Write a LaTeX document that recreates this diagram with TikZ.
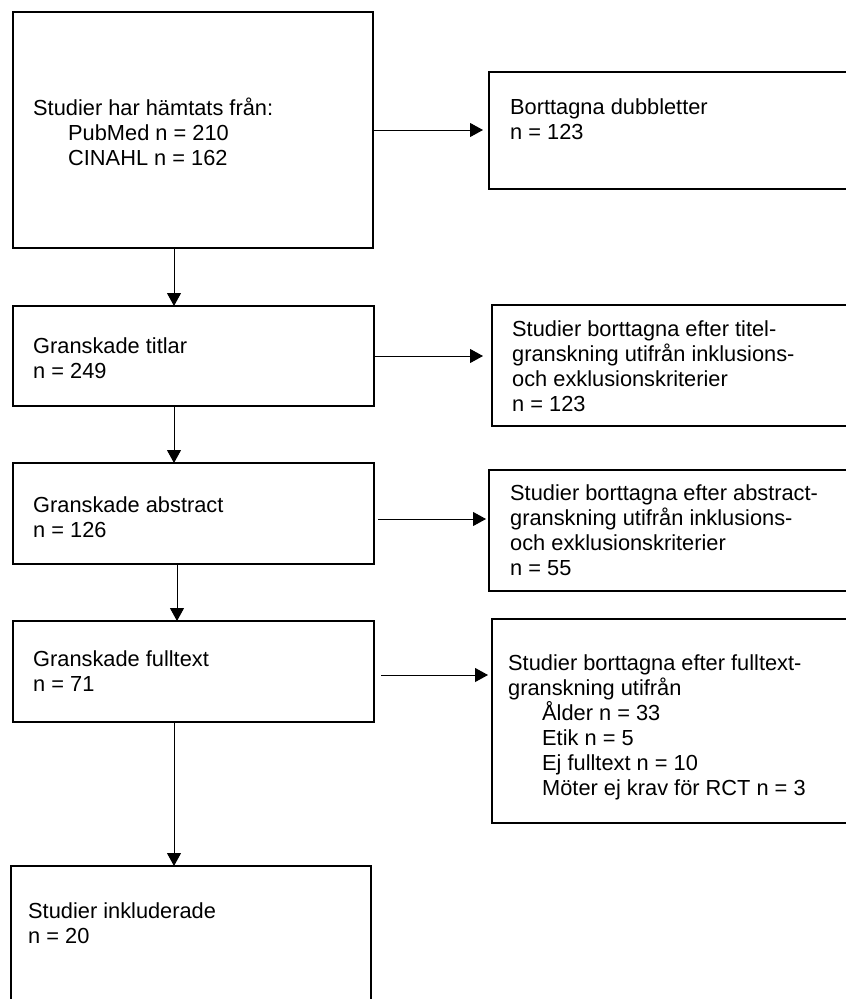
\documentclass[tikz,border=0pt]{standalone}
\usepackage{fontspec}
\setmainfont{Liberation Sans}
\usetikzlibrary{arrows.meta,positioning}
\tikzset{
  >={Triangle[length=13pt,width=14pt]},
  box/.style={draw,line width=2pt,anchor=north west,inner sep=0pt,outer sep=0pt},
  txt/.style={anchor=base west,align=left,inner sep=0pt,font=\fontsize{21.8}{25}\selectfont},
  arr/.style={->,line width=1pt},
}
\begin{document}
\begin{tikzpicture}[x=1pt,y=-1pt]
\useasboundingbox (0,0) rectangle (846,999);
\clip (0,0) rectangle (846,999);
% left column
\node[box,minimum width=360pt,minimum height=236pt] (src) at (13,12) {};
\node[box,minimum width=361pt,minimum height=100pt] (tit) at (13,306) {};
\node[box,minimum width=361pt,minimum height=101pt] (abs) at (13,463) {};
\node[box,minimum width=361pt,minimum height=101pt] (ful) at (13,621) {};
\node[box,minimum width=360pt,minimum height=160pt] (inc) at (11,866) {};
% right column (cut off by the page edge)
\node[box,minimum width=400pt,minimum height=117pt] (dup) at (489,72) {};
\node[box,minimum width=400pt,minimum height=121pt] (rtit) at (492,305) {};
\node[box,minimum width=400pt,minimum height=121pt] (rabs) at (489,470) {};
\node[box,minimum width=400pt,minimum height=204pt] (rful) at (492,619) {};
% texts (anchored on the baseline of the last line)
\node[txt] (srcT) at ([shift={(20,153)}]src.north west)
  {Studier har hämtats från:\\\hspace*{35pt}PubMed n = 210\\\hspace*{35pt}CINAHL n = 162};
\node[txt] (titT) at ([shift={(20,72)}]tit.north west) {Granskade titlar\\n = 249};
\node[txt] (absT) at ([shift={(20,74)}]abs.north west) {Granskade abstract\\n = 126};
\node[txt] (fulT) at ([shift={(20,70)}]ful.north west) {Granskade fulltext\\n = 71};
\node[txt] (incT) at ([shift={(17,77)}]inc.north west) {Studier inkluderade\\n = 20};
\node[txt] (dupT) at ([shift={(21,67)}]dup.north west) {Borttagna dubbletter\\n = 123};
\node[txt] (rtitT) at ([shift={(20,106)}]rtit.north west)
  {Studier borttagna efter titel-\\granskning utifrån inklusions-\\och exklusionskriterier\\n = 123};
\node[txt] (rabsT) at ([shift={(21,105)}]rabs.north west)
  {Studier borttagna efter abstract-\\granskning utifrån inklusions-\\och exklusionskriterier\\n = 55};
\node[txt] (rfulT) at ([shift={(16,176)}]rful.north west)
  {Studier borttagna efter fulltext-\\granskning utifrån\\\hspace*{34pt}Ålder n = 33\\\hspace*{34pt}Etik n = 5\\\hspace*{34pt}Ej fulltext n = 10\\\hspace*{34pt}Möter ej krav för RCT n = 3};
% arrows down
\draw[arr] ([xshift=-19pt]src.south) -- ([xshift=-19pt]src.south |- tit.north);
\draw[arr] ([xshift=-19.5pt]tit.south) -- ([xshift=-19.5pt]tit.south |- abs.north);
\draw[arr] ([xshift=-16.5pt]abs.south) -- ([xshift=-16.5pt]abs.south |- ful.north);
\draw[arr] ([xshift=-19.5pt]ful.south) -- ([xshift=-19.5pt]ful.south |- inc.north);
% arrows right
\draw[arr] ([xshift=1pt]src.east) -- ([xshift=-6pt]src.east -| dup.west);
\draw[arr] ([xshift=1pt]tit.east) -- ([xshift=-9pt]tit.east -| rtit.west);
\draw[arr] ([shift={(4pt,-5.5pt)}]abs.east) -- ([shift={(-3pt,-5.5pt)}]abs.east -| rabs.west);
\draw[arr] ([shift={(7pt,-3.5pt)}]ful.east) -- ([shift={(-4pt,-3.5pt)}]ful.east -| rful.west);
\end{tikzpicture}
\end{document}
